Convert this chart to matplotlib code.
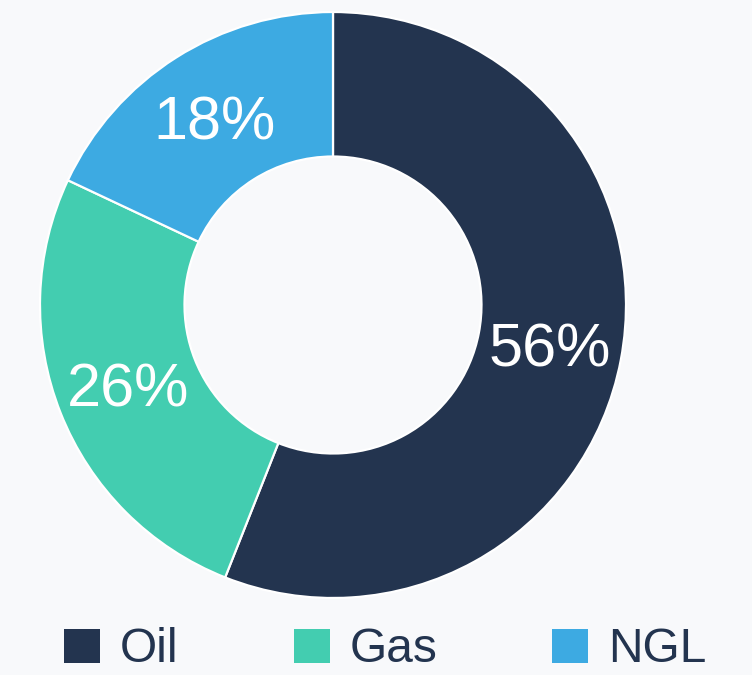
import matplotlib
matplotlib.use("Agg")
import matplotlib.pyplot as plt
from matplotlib.patches import Patch

categories = ["Oil", "Gas", "NGL"]
values = [56, 26, 18]
colors = ["#23344f", "#43cdb0", "#3daae2"]

BG = "#f8f9fb"
W, H = 752, 675
fig = plt.figure(figsize=(W / 100, H / 100), dpi=100, facecolor=BG)
plt.rcParams["font.family"] = ["Liberation Sans", "DejaVu Sans"]

cx, cy, R = 333, 305, 293
ax = fig.add_axes([(cx - R) / W, (H - cy - R) / H, 2 * R / W, 2 * R / H])
ax.set_facecolor(BG)
wedges, texts, autotexts = ax.pie(
    values, colors=colors, startangle=90, counterclock=False, radius=1,
    wedgeprops=dict(width=1 - 148.5 / 293, edgecolor="white", linewidth=1.6),
    autopct=lambda p: f"{p:.0f}%", pctdistance=0.753,
    textprops=dict(color="white", fontsize=44),
)
for t in autotexts:
    x, y = t.get_position()
    t.set_position((x, y - 5 / R))
ax.set_xlim(-1, 1)
ax.set_ylim(-1, 1)
ax.set_aspect("equal")
ax.axis("off")

fs = 34.5
px = fs * 1.389
handles = [Patch(facecolor=c, edgecolor="none") for c in colors]
leg = fig.legend(handles, categories, ncol=3, frameon=False,
                 loc="center left", bbox_to_anchor=(64 / W, 1 - 650 / H),
                 fontsize=fs, handlelength=36 / px, handleheight=35 / px,
                 handletextpad=20 / px, columnspacing=115 / px,
                 borderpad=0, borderaxespad=0)
for t in leg.get_texts():
    t.set_color("#23344f")

fig.savefig("out.png", dpi=100, facecolor=BG)
